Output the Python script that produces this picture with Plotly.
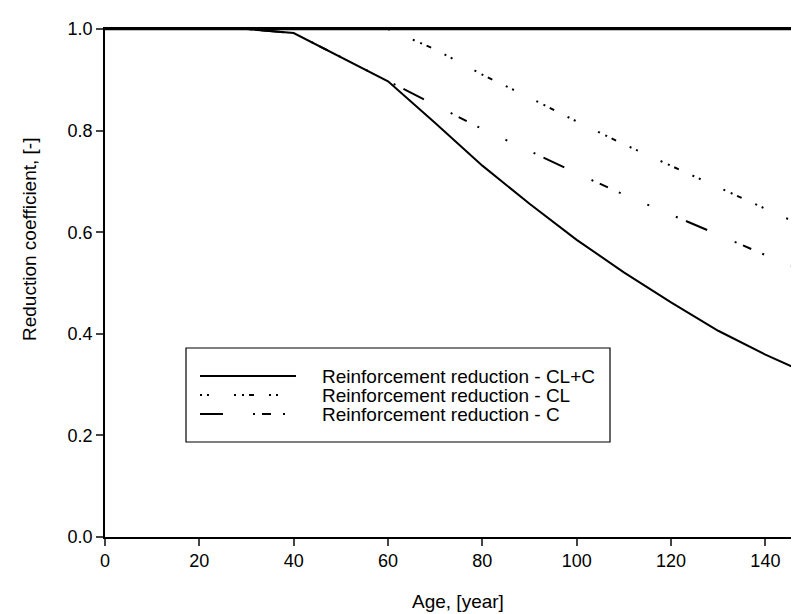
import plotly.graph_objects as go

# ---- data ----
age = [0, 10, 20, 30, 40, 50, 60, 70, 80, 90, 100, 110, 120, 130, 140, 150]
red_clc = [1.0, 1.0, 1.0, 1.0, 0.992, 0.945, 0.897, 0.815, 0.731, 0.656, 0.585, 0.521, 0.462, 0.406, 0.359, 0.317]
red_cl = [1.0, 1.0, 1.0, 1.0, 1.0, 1.0, 1.0, 0.960, 0.910, 0.865, 0.818, 0.773, 0.731, 0.688, 0.646, 0.604]
red_c = [1.0, 1.0, 1.0, 1.0, 0.992, 0.945, 0.897, 0.850, 0.803, 0.760, 0.716, 0.674, 0.635, 0.595, 0.555, 0.517]
names = ["Reinforcement reduction - CL+C", "Reinforcement reduction - CL", "Reinforcement reduction - C"]
x_ticks = [0, 20, 40, 60, 80, 100, 120, 140]
y_ticks = [0.0, 0.2, 0.4, 0.6, 0.8, 1.0]
x_title = "Age, [year]"
y_title = "Reduction coefficient, [-]"

FONT = "Liberation Sans, Arial, sans-serif"
DASH_CLC = "solid"
DASH_CL = "2px,5px,2px,25px,2px,6px,2px,5px,5px,15px"
DASH_C = "23px,30px,2px,7px,9px,12px,2px,29px,2px,29px,2px,9px"

W, H = 799, 614
L, R, T, B = 97, 0, 21, 85
PW, PH = W - L - R, H - T - B


def px_x(px):
    return (px - L) / PW


def px_y(py):
    return (H - B - py) / PH


fig = go.Figure()
for ys, nm, dash in [(red_clc, names[0], DASH_CLC), (red_cl, names[1], DASH_CL), (red_c, names[2], DASH_C)]:
    fig.add_trace(go.Scatter(x=age, y=ys, mode="lines", name=nm, showlegend=False,
                             line=dict(color="black", width=2, dash=dash)))

# top frame line (drawn heavier in the reference)
shapes = [dict(type="line", xref="paper", yref="paper", x0=0, x1=1, y0=1, y1=1,
               line=dict(color="black", width=2.6))]
# manual legend (box, samples, labels)
shapes.append(dict(type="rect", xref="paper", yref="paper", x0=px_x(178), x1=px_x(602),
                   y0=px_y(434), y1=px_y(340), line=dict(color="black", width=1.2), fillcolor="white"))
annotations = []
rows = [368, 387, 406]
for (nm, dash, ry) in zip(names, [DASH_CLC, DASH_CL, DASH_C], rows):
    shapes.append(dict(type="line", xref="paper", yref="paper", x0=px_x(192), x1=px_x(288),
                       y0=px_y(ry), y1=px_y(ry), line=dict(color="black", width=2, dash=dash)))
    annotations.append(dict(text=nm, xref="paper", yref="paper", x=px_x(312), y=px_y(ry),
                            xanchor="left", yanchor="middle", showarrow=False,
                            font=dict(family=FONT, size=19, color="black")))

# axis titles
annotations.append(dict(text=x_title, xref="paper", yref="paper", x=px_x(450), y=px_y(593),
                        xanchor="center", yanchor="middle", showarrow=False,
                        font=dict(family=FONT, size=19, color="black")))
annotations.append(dict(text=y_title, xref="paper", yref="paper", x=px_x(21), y=px_y(232),
                        xanchor="center", yanchor="middle", showarrow=False, textangle=-90,
                        font=dict(family=FONT, size=19, color="black")))

fig.update_layout(
    width=W, height=H,
    margin=dict(l=L, r=R, t=T, b=B, autoexpand=False),
    paper_bgcolor="white", plot_bgcolor="white",
    font=dict(family=FONT, size=18, color="black"),
    shapes=shapes, annotations=annotations,
)
fig.update_xaxes(range=[0, PW / 4.717], tickvals=x_ticks, ticks="outside", ticklen=7, tickwidth=1.5,
                 showline=True, linecolor="black", linewidth=1.5, mirror=True, showgrid=False, zeroline=False)
fig.update_yaxes(range=[0, 1], tickvals=y_ticks, tickformat=".1f", ticks="outside", ticklen=7, tickwidth=1.5,
                 showline=True, linecolor="black", linewidth=1.5, showgrid=False, zeroline=False)

fig.write_html("out.html")
